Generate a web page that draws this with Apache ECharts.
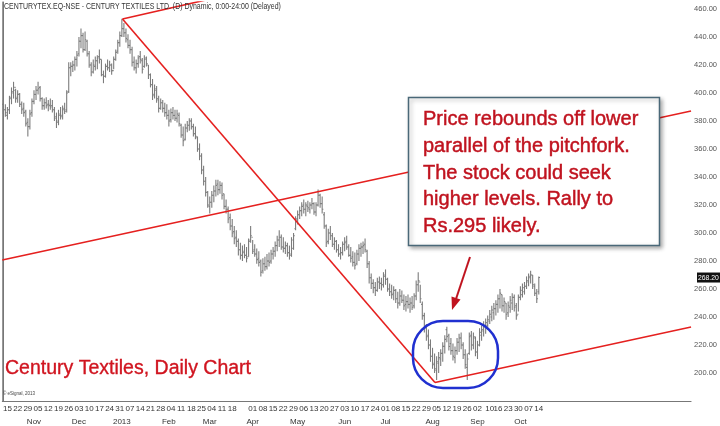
<!DOCTYPE html>
<html><head><meta charset="utf-8">
<script src="https://cdn.jsdelivr.net/npm/echarts@6/dist/echarts.min.js"></script>
<style>html,body{margin:0;padding:0;background:#fff}#c{width:720px;height:426px}</style>
</head><body><div id="c"></div>
<script>
// ---- data ----
const startDate = '2012-10-11';   // first trading day shown
const slotCount = 337;            // weekday slots on the x axis (data + empty space)

const lows = [385,383,381,385,392,396,393,393,390,385,383,376,369,374,383,392,395,399,394,388,
388,389,387,388,386,380,375,377,381,381,385,386,400,412,415,416,419,426,432,429,
430,426,418,412,414,416,417,421,412,407,411,416,415,413,417,423,428,433,440,440,
436,432,428,419,416,414,418,421,414,418,419,410,404,395,396,393,386,388,386,383,
381,376,379,381,380,379,376,368,362,366,372,373,374,369,367,358,352,342,334,326,
318,314,318,322,326,327,328,324,317,314,307,302,297,292,290,284,281,280,282,279,
283,293,285,283,278,276,269,271,273,274,276,278,281,283,287,290,288,286,285,283,
281,283,288,302,306,310,312,314,312,315,314,317,313,312,319,318,314,303,290,292,
295,290,288,286,283,281,284,287,288,283,279,276,274,277,280,283,285,286,275,264,
260,257,255,258,260,259,261,263,258,255,253,252,250,246,248,250,245,244,246,243,
245,246,252,258,250,238,229,223,217,208,203,200,195,200,205,208,214,222,216,213,
209,207,213,215,217,210,203,195,213,216,217,212,210,219,223,226,228,231,235,237,
238,241,243,246,244,243,238,240,243,245,244,238,244,252,254,256,260,262,264,260,
255,250,256];
const highs = [395,392,390,398,404,408,403,402,400,394,393,388,382,388,396,402,405,408,405,397,
396,397,395,396,395,390,386,388,390,391,393,402,422,422,423,426,430,440,446,443,
444,438,430,422,424,426,427,431,424,416,421,424,423,421,426,431,438,444,453,450,
446,442,438,433,426,424,427,430,425,427,426,420,414,410,406,405,398,396,395,393,
392,388,389,390,388,388,386,378,376,378,380,382,382,378,376,369,364,357,348,340,
330,326,330,334,338,338,337,336,328,324,319,314,310,305,302,296,293,291,292,290,
296,305,295,292,289,287,281,282,283,285,286,288,290,294,298,302,299,297,294,293,
291,297,300,312,316,319,322,324,322,323,322,325,322,322,331,328,326,315,306,303,
305,300,297,295,292,290,294,297,298,292,290,287,286,288,292,293,294,296,288,280,
271,267,265,268,269,268,272,274,268,264,263,262,260,258,260,259,256,255,256,254,
255,257,266,272,263,251,243,235,231,224,218,214,212,215,217,222,227,233,228,225,
221,219,225,228,229,222,217,214,229,230,229,226,223,232,234,237,239,241,245,248,
250,252,256,260,256,254,250,251,255,257,256,250,256,262,264,265,269,271,273,270,
264,260,269];
const opens = [392,388,384,388,397,401,404,397,399,392,389,387,379,376,386,394,399,402,404,396,
391,393,392,391,391,388,383,380,384,384,389,388,401,418,419,420,424,428,437,441,
431,437,428,420,415,419,423,426,424,413,412,419,418,420,416,424,430,436,441,446,
443,438,434,431,422,418,421,426,423,419,425,420,413,406,399,403,395,389,393,389,
386,384,381,386,384,382,384,377,370,367,375,377,380,376,371,368,360,355,345,337,
329,319,322,327,330,335,331,334,328,319,317,311,305,301,297,294,288,284,287,284,
283,295,297,288,285,282,280,273,278,276,280,280,285,287,291,295,297,290,289,291,
286,285,289,303,310,313,316,320,317,319,317,320,321,315,320,327,321,313,305,294,
300,298,292,294,288,285,286,292,294,290,284,283,279,278,285,289,290,292,287,278,
268,264,261,259,265,264,263,269,267,260,258,257,259,253,250,255,252,249,251,249,
250,248,255,263,265,249,241,233,227,220,212,207,202,207,210,214,219,231,227,221,
216,211,216,222,225,220,213,204,214,227,220,225,215,220,227,230,233,234,237,240,
243,246,249,253,256,248,250,243,247,250,254,248,242,254,256,258,262,265,269,270,
262,257,258];
const closes = [388,386,388,396,400,402,396,399,392,388,386,378,376,385,394,399,402,403,396,391,
393,391,392,390,388,382,379,385,383,388,387,400,418,419,420,424,427,437,441,431,
438,428,420,415,420,423,425,424,413,412,419,418,420,416,424,429,436,441,446,443,
439,434,431,422,418,421,425,424,417,424,421,413,406,398,402,396,389,393,389,386,
384,380,386,384,382,385,378,370,366,375,377,380,376,371,369,360,355,345,337,329,
320,322,327,330,334,331,334,327,319,317,310,305,300,296,294,288,284,286,284,282,
294,298,287,285,281,279,272,278,276,280,279,285,287,291,295,297,290,289,291,286,
284,295,298,310,313,316,319,317,320,318,320,321,315,320,327,321,317,305,293,300,
298,292,294,288,285,286,292,293,290,284,282,279,277,285,289,290,291,288,278,268,
264,261,259,265,264,263,270,267,260,258,256,259,253,250,255,252,248,251,249,250,
247,255,263,266,253,241,232,226,220,212,206,203,208,211,214,219,224,226,219,216,
212,216,222,225,220,213,206,210,226,220,226,215,220,229,231,233,236,238,242,245,
246,249,253,257,248,251,242,248,252,254,247,241,254,259,261,262,266,268,270,263,
257,253,268.2];

// tick labels: Monday (or first trading day of week) dates, and month starts
const tickDays = ['2012-10-15','2012-10-22','2012-10-29','2012-11-05','2012-11-12','2012-11-19','2012-11-26',
'2012-12-03','2012-12-10','2012-12-17','2012-12-24','2012-12-31','2013-01-07','2013-01-14','2013-01-21','2013-01-28',
'2013-02-04','2013-02-11','2013-02-18','2013-02-25','2013-03-04','2013-03-11','2013-03-18','2013-04-01','2013-04-08',
'2013-04-15','2013-04-22','2013-04-29','2013-05-06','2013-05-13','2013-05-20','2013-05-27','2013-06-03','2013-06-10',
'2013-06-17','2013-06-24','2013-07-01','2013-07-08','2013-07-15','2013-07-22','2013-07-29','2013-08-05','2013-08-12',
'2013-08-19','2013-08-26','2013-09-02','2013-09-10','2013-09-16','2013-09-23','2013-09-30','2013-10-07','2013-10-14'];
const monthStarts = ['2012-11-01','2012-12-03','2013-01-01','2013-02-01','2013-03-01','2013-04-01','2013-05-01',
'2013-06-03','2013-07-01','2013-08-01','2013-09-02','2013-10-01'];
const monthNames = ['Nov','Dec','2013','Feb','Mar','Apr','May','Jun','Jul','Aug','Sep','Oct'];

// pitchfork lines as [slot index, price]
const peakToPivot = [[58.3, 452.9], [211.2, 193.2]];
const lowerTine   = [[211.2, 193.2], [336.5, 232.9]];
const middleTine  = [[-0.5, 280.7], [336.5, 387.1]];
const upperTine   = [[58.3, 452.9], [99.0, 466.4]];

const priceMin = 180, priceMax = 465, priceStep = 20;

// ---- build weekday categories ----
const cats = [];
{
  const d = new Date(startDate + 'T00:00:00Z');
  while (cats.length < slotCount) {
    const wd = d.getUTCDay();
    if (wd !== 0 && wd !== 6) cats.push(d.toISOString().slice(0, 10));
    d.setUTCDate(d.getUTCDate() + 1);
  }
}
const tickSet = new Set(tickDays);
const monthMap = {};
monthStarts.forEach((m, k) => monthMap[m] = monthNames[k]);

const barData = lows.map((l, i) => [i, l, highs[i], opens[i], closes[i]]);

const chart = echarts.init(document.getElementById('c'), null, {renderer: 'canvas'});
const narrow = '"Liberation Sans Narrow", "Liberation Sans", Arial, sans-serif';
const redLine = {color: '#e5201f', width: 1.6};
function lineSeries(pts) {
  return {type: 'line', xAxisIndex: 2, yAxisIndex: 0, data: pts, symbol: 'none', silent: true,
    clip: true, lineStyle: redLine, z: 5, animation: false};
}

chart.setOption({
  animation: false,
  backgroundColor: '#fff',
  grid: {left: 2, right: 24, top: 2, bottom: 25, show: false},
  xAxis: [
    {type: 'category', data: cats, boundaryGap: true, position: 'bottom',
      axisLine: {show: true, lineStyle: {color: '#777', width: 1}},
      axisTick: {show: false},
      axisLabel: {interval: (idx, val) => tickSet.has(val), formatter: v => v.slice(8, 10),
        fontSize: 8, color: '#333', margin: 4, fontFamily: narrow}},
    {type: 'category', data: cats, boundaryGap: true, position: 'bottom', offset: 13,
      axisLine: {show: false}, axisTick: {show: false},
      axisLabel: {interval: (idx, val) => !!monthMap[val], formatter: v => monthMap[v] || '',
        fontSize: 8, color: '#333', margin: 4, fontFamily: narrow}},
    {type: 'value', min: -0.5, max: slotCount - 0.5, show: false}
  ],
  yAxis: [
    {type: 'value', position: 'right', min: priceMin, max: priceMax, interval: priceStep,
      splitLine: {show: false},
      axisLine: {show: true, lineStyle: {color: '#777'}},
      axisTick: {show: false},
      axisLabel: {formatter: v => v.toFixed(2), fontSize: 7.5, color: '#555', margin: 3,
        showMinLabel: false, fontFamily: narrow}},
    {type: 'value', position: 'left', min: priceMin, max: priceMax,
      splitLine: {show: false}, axisLabel: {show: false}, axisTick: {show: false},
      axisLine: {show: true, lineStyle: {color: '#999'}}}
  ],
  series: [
    {type: 'custom', xAxisIndex: 0, yAxisIndex: 0, data: barData, encode: {x: 0, y: [1, 2, 3, 4]},
      silent: true, z: 3,
      renderItem: (params, api) => {
        const i = api.value(0);
        const lo = api.coord([i, api.value(1)]);
        const hi = api.coord([i, api.value(2)]);
        const op = api.coord([i, api.value(3)]);
        const cl = api.coord([i, api.value(4)]);
        const st = {stroke: '#7c7c7c', lineWidth: 1.1};
        return {type: 'group', children: [
          {type: 'line', shape: {x1: lo[0], y1: lo[1], x2: hi[0], y2: hi[1]}, style: st},
          {type: 'line', shape: {x1: op[0] - 1.2, y1: op[1], x2: op[0], y2: op[1]}, style: st},
          {type: 'line', shape: {x1: cl[0], y1: cl[1], x2: cl[0] + 1.2, y2: cl[1]}, style: st}
        ]};
      }},
    lineSeries(peakToPivot),
    lineSeries(lowerTine),
    lineSeries(middleTine),
    lineSeries(upperTine)
  ]
});

// price tag for last close on the right axis
const lastClose = closes[closes.length - 1];
const tagY = chart.convertToPixel({yAxisIndex: 0}, lastClose);

chart.setOption({
  graphic: [
    {type: 'text', x: 4, y: 2, scaleX: 0.82, z: 10, style: {text: 'CENTURYTEX.EQ-NSE - CENTURY TEXTILES LTD. (D) Dynamic, 0:00-24:00 (Delayed)',
      font: '8.5px ' + narrow, fill: '#333'}},
    {type: 'rect', z: 20, shape: {x: 697, y: tagY - 5, width: 23, height: 10},
      style: {fill: '#111'}},
    {type: 'text', z: 21, x: 698, y: tagY - 4, scaleX: 0.85, style: {text: lastClose.toFixed(2), font: '8px ' + narrow, fill: '#fff'}},
    {type: 'rect', z: 30, shape: {x: 408.5, y: 97.5, width: 251, height: 148},
      style: {fill: '#fff', stroke: '#4a6878', lineWidth: 1.5, shadowBlur: 4, shadowOffsetX: 2, shadowOffsetY: 2, shadowColor: 'rgba(0,0,0,0.3)'}},
    {type: 'text', z: 31, x: 423, y: 106, style: {
      text: 'Price rebounds off lower\nparallel of the pitchfork.\nThe stock could seek\nhigher levels. Rally to\nRs.295 likely.',
      font: '20px "Liberation Sans", Arial, sans-serif', fill: '#c0131f', lineHeight: 26.8,
      stroke: '#c0131f', lineWidth: 0.45}},
    {type: 'line', z: 30, shape: {x1: 470, y1: 257, x2: 456, y2: 299}, style: {stroke: '#c0131f', lineWidth: 2}},
    {type: 'polygon', z: 30, shape: {points: [[452, 310], [451.5, 296.5], [460.5, 299.5]]}, style: {fill: '#c0131f'}},
    {type: 'rect', z: 30, shape: {x: 413, y: 321, width: 85, height: 67, r: 30},
      style: {fill: 'none', stroke: '#2030d0', lineWidth: 2.5}},
    {type: 'text', z: 30, x: 5, y: 359, style: {text: 'Century Textiles, Daily Chart',
      font: '19.5px "Liberation Sans", Arial, sans-serif', fill: '#d0141f', stroke: '#d0141f', lineWidth: 0.35}},
    {type: 'text', z: 30, x: 3, y: 391, style: {text: '© eSignal, 2013', font: '4.5px ' + narrow, fill: '#444'}}
  ]
});
</script>
</body></html>
